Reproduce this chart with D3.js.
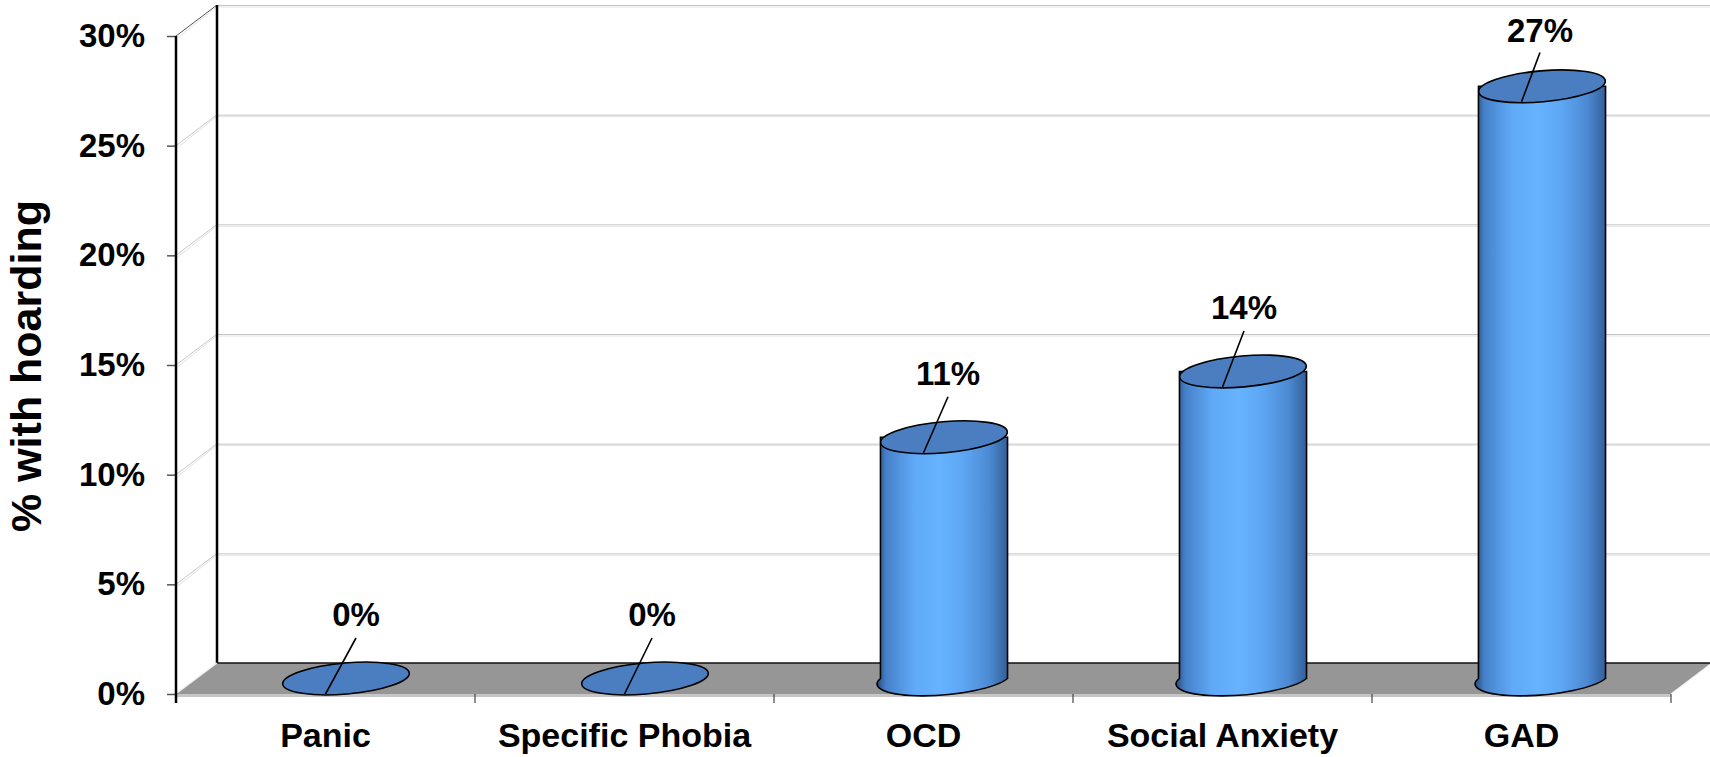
<!DOCTYPE html>
<html>
<head>
<meta charset="utf-8">
<script src="https://cdn.jsdelivr.net/npm/d3@7"></script>
<style>
  html, body { margin: 0; padding: 0; background: #fff; }
  svg { display: block; font-family: "Liberation Sans", Arial, sans-serif; }
</style>
</head>
<body>
<svg id="chart" width="1710" height="757"></svg>
<script>
// Share of each anxiety-disorder group showing hoarding
const categories = ["Panic", "Specific Phobia", "OCD", "Social Anxiety", "GAD"];
const values = [0.00, 0.00, 0.11, 0.14, 0.27];
const valueLabels = ["0%", "0%", "11%", "14%", "27%"];
const yTicks = [0, 0.05, 0.10, 0.15, 0.20, 0.25, 0.30];
const yTitle = "% with hoarding";

const W = 1710, H = 757;
const svg = d3.select("#chart");

// Front plane of the plot box and its depth offset (pseudo-3D)
const plotLeft = 176, plotRight = 1671, plotTop = 36, floorY = 694;
const depthX = 41, depthY = -31;

const x = d3.scaleBand().domain(categories).range([plotLeft, plotRight]).padding(0);
const y = d3.scaleLinear().domain([0, 0.30]).range([floorY, plotTop]);

const defs = svg.append("defs");
const grad = defs.append("linearGradient").attr("id", "cyl")
  .attr("x1", "0%").attr("x2", "100%").attr("y1", "0%").attr("y2", "0%");
[["0%", "#294c7c"], ["7%", "#4680c8"], ["28%", "#5fa9f7"], ["48%", "#67b3ff"],
 ["66%", "#5da6f4"], ["86%", "#4c8ad2"], ["100%", "#33609a"]]
  .forEach(([o, c]) => grad.append("stop").attr("offset", o).attr("stop-color", c));

// Gridlines: back wall horizontals and side-wall diagonals
const grid = svg.append("g");
yTicks.forEach(t => {
  const fy = y(t), by = fy + depthY;
  if (t > 0) {
    grid.append("line").attr("x1", plotLeft + depthX).attr("x2", W)
      .attr("y1", by + 0.5).attr("y2", by + 0.5)
      .attr("stroke", "#c4c4c4").attr("stroke-width", 1);
    grid.append("line").attr("x1", plotLeft + depthX).attr("x2", W)
      .attr("y1", by + 2).attr("y2", by + 2)
      .attr("stroke", "#e4e4e4").attr("stroke-width", 1);
    grid.append("line").attr("x1", plotLeft).attr("x2", plotLeft + depthX)
      .attr("y1", fy).attr("y2", by)
      .attr("stroke", t === 0.30 ? "#555" : "#c8c8c8").attr("stroke-width", 1);
    grid.append("line").attr("x1", plotLeft + 2).attr("x2", plotLeft + depthX)
      .attr("y1", fy + 1.5).attr("y2", by + 1.5)
      .attr("stroke", "#e2e2e2").attr("stroke-width", 1);
  }
});

// Back wall edge
svg.append("line").attr("x1", plotLeft + depthX).attr("x2", plotLeft + depthX)
  .attr("y1", y(0.30) + depthY).attr("y2", floorY + depthY)
  .attr("stroke", "#000").attr("stroke-width", 2.5);

// Floor
const floorPts = [[plotLeft, floorY], [plotLeft + depthX, floorY + depthY],
                  [plotRight + depthX, floorY + depthY], [plotRight, floorY]];
svg.append("polygon").attr("points", floorPts.map(p => p.join(",")).join(" "))
  .attr("fill", "#969696");
svg.append("line").attr("x1", plotLeft + depthX).attr("x2", plotRight + depthX)
  .attr("y1", floorY + depthY).attr("y2", floorY + depthY)
  .attr("stroke", "#111").attr("stroke-width", 1.5);
svg.append("line").attr("x1", plotLeft + 1).attr("x2", plotLeft + depthX)
  .attr("y1", floorY - 1).attr("y2", floorY + depthY)
  .attr("stroke", "#eee").attr("stroke-width", 1.2);
svg.append("line").attr("x1", plotRight).attr("x2", plotRight + depthX)
  .attr("y1", floorY).attr("y2", floorY + depthY)
  .attr("stroke", "#f2f2f2").attr("stroke-width", 1.2);
svg.append("line").attr("x1", plotLeft).attr("x2", plotRight)
  .attr("y1", floorY + 1.5).attr("y2", floorY + 1.5)
  .attr("stroke", "#c6c6c6").attr("stroke-width", 3);

// Category boundary ticks along the floor's front edge
const bounds = categories.map(c => x(c)).concat([plotRight]);
svg.append("g").selectAll("line").data(bounds).join("line")
  .attr("x1", d => d).attr("x2", d => d)
  .attr("y1", floorY).attr("y2", floorY + 9)
  .attr("stroke", "#444").attr("stroke-width", 1.2);

// Y axis
const yAxis = svg.append("g").attr("transform", `translate(${plotLeft},0)`)
  .call(d3.axisLeft(y).tickValues(yTicks).tickFormat(d3.format(".0%"))
    .tickSize(9).tickPadding(22));
yAxis.select(".domain").remove();
yAxis.selectAll(".tick line").attr("stroke", "#555").attr("stroke-width", 1.5);
yAxis.selectAll(".tick text").attr("font-size", 33).attr("font-weight", "bold")
  .attr("fill", "#000").attr("font-family", "Liberation Sans, Arial, sans-serif");
svg.append("line").attr("x1", plotLeft).attr("x2", plotLeft)
  .attr("y1", plotTop).attr("y2", floorY + 9)
  .attr("stroke", "#000").attr("stroke-width", 2.5);

// X axis labels
const xAxis = svg.append("g").attr("transform", `translate(0,${floorY})`)
  .call(d3.axisBottom(x).tickSize(0).tickPadding(29));
xAxis.select(".domain").remove();
xAxis.selectAll(".tick text").attr("font-size", 34).attr("font-weight", "bold")
  .attr("fill", "#000").attr("font-family", "Liberation Sans, Arial, sans-serif");

// Cylinders
const rot = -5;
const bars = svg.append("g");
categories.forEach((c, i) => {
  const v = values[i];
  const bw = x.bandwidth() * 0.425;
  const rx = bw / 2, ry = 15.5;
  const frontCx = x(c) + x.bandwidth() / 2;
  const cx = frontCx + depthX / 2;
  const yTop = y(v) + depthY / 2;
  const yBot = y(0) + depthY / 2;
  const g = bars.append("g");
  if (v > 0) {
    const body = `M${cx - rx},${yTop} L${cx - rx},${yBot} ` +
      `A${rx},${ry} ${rot} 0 0 ${cx + rx},${yBot} L${cx + rx},${yTop} Z`;
    g.append("path").attr("d", body).attr("fill", "url(#cyl)")
      .attr("stroke", "#000").attr("stroke-width", 1.6);
  }
  g.append("ellipse").attr("cx", cx).attr("cy", yTop).attr("rx", rx).attr("ry", ry)
    .attr("transform", `rotate(${rot},${cx},${yTop})`)
    .attr("fill", "#4a7ec0").attr("stroke", "#000").attr("stroke-width", 1.6);

  // Value label with leader line to the front of the top face
  const lx = cx + 10 - 3 * i;
  const lift = v > 0.2 ? 0.88 : 1;
  g.append("line").attr("x1", lx).attr("y1", y(v) - 56 * lift)
    .attr("x2", frontCx).attr("y2", y(v))
    .attr("stroke", "#000").attr("stroke-width", 1.6);
  g.append("text").attr("x", lx).attr("y", y(v) - 68 * lift)
    .attr("text-anchor", "middle").attr("font-size", 33).attr("font-weight", "bold")
    .attr("fill", "#000").text(valueLabels[i]);
});

// Y axis title
svg.append("text").attr("transform", `translate(41,366) rotate(-90)`)
  .attr("text-anchor", "middle").attr("font-size", 43).attr("font-weight", "bold")
  .attr("fill", "#000").text(yTitle);
</script>
</body>
</html>
